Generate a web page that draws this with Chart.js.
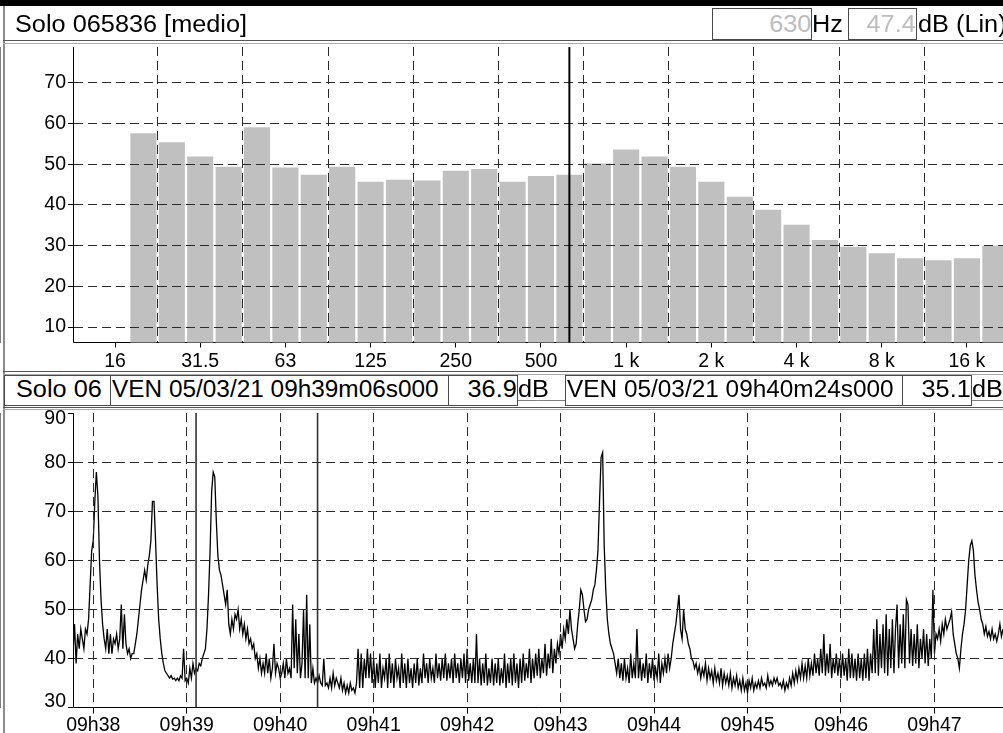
<!DOCTYPE html>
<html><head><meta charset="utf-8">
<script src="https://cdn.jsdelivr.net/npm/chart.js@4/dist/chart.umd.min.js"></script>
<style>
html,body{margin:0;padding:0;background:#fff;}
body{width:1003px;height:733px;overflow:hidden;position:relative;font-family:'Liberation Sans',Arial,sans-serif;}
canvas{position:absolute;left:0;}
.r{position:absolute;}
.t{position:absolute;white-space:nowrap;font-size:23px;color:#000;}
.box{position:absolute;box-sizing:border-box;border:1px solid #4a4a4a;background:#fff;white-space:nowrap;overflow:hidden;font-size:23px;}
.grey{color:#bdbdbd;text-align:right;}
.sx{display:inline-block;transform:scaleX(1.1);transform-origin:0 50%;}
.sx.n{transform:scaleX(1.06);}
.rt{text-align:right;}
.rt .sx{transform-origin:100% 50%;}
</style>
</head><body>
<canvas id="spec" width="1003" height="370" style="top:0"></canvas>
<canvas id="hist" width="1003" height="333" style="top:400px"></canvas>

<div class="r" style="left:0;top:0;width:1003px;height:6px;background:#000"></div>
<div class="r" style="left:3px;top:6px;width:2px;height:727px;background:#8c8c8c"></div>
<div class="r" style="left:3px;top:40px;width:1000px;height:1px;background:#555"></div>
<div class="r" style="left:3px;top:43px;width:1000px;height:1px;background:#aaa"></div>
<div class="t" style="left:15px;top:9px;line-height:30px"><span class="sx" id="title1"></span></div>
<div class="box grey rt" style="left:712px;top:8px;width:100px;height:32px;line-height:30px"><span class="sx" id="freqBox"></span></div>
<div class="t" style="left:812px;top:9px;line-height:30px"><span class="sx">Hz</span></div>
<div class="box grey rt" style="left:848px;top:8px;width:69px;height:32px;line-height:30px"><span class="sx" id="lvlBox"></span></div>
<div class="t" style="left:918px;top:9px;line-height:30px"><span class="sx">dB (Lin)</span></div>

<div class="r" style="left:3px;top:371px;width:1000px;height:1px;background:#555"></div>
<div class="r" style="left:3px;top:374px;width:1000px;height:1px;background:#aaa"></div>
<div class="box" style="left:4px;top:375px;width:107px;height:31px;line-height:26px;padding-left:11px"><span class="sx" id="title2"></span></div>
<div class="box" style="left:110px;top:375px;width:339px;height:31px;line-height:26px;padding-left:1px"><span class="sx n" id="c1t"></span></div>
<div class="box rt" style="left:448px;top:375px;width:70px;height:31px;line-height:26px"><span class="sx" id="c1v"></span></div>
<div class="t" style="left:518px;top:376px;line-height:26px"><span class="sx">dB</span></div>
<div class="box" style="left:565px;top:375px;width:338px;height:31px;line-height:26px;padding-left:1px"><span class="sx n" id="c2t"></span></div>
<div class="box rt" style="left:902px;top:375px;width:70px;height:31px;line-height:26px"><span class="sx" id="c2v"></span></div>
<div class="t" style="left:972px;top:376px;line-height:26px"><span class="sx">dB</span></div>
<div class="r" style="left:3px;top:407px;width:1000px;height:1px;background:#555"></div>
<div class="r" style="left:3px;top:409px;width:1000px;height:1px;background:#aaa"></div>

<script>
// ---------- spectrum (1/3 octave) ----------
const bands = ['12.5','16','20','25','31.5','40','50','63','80','100','125','160','200','250','315','400','500','630','800','1k','1.25k','1.6k','2k','2.5k','3.15k','4k','5k','6.3k','8k','10k','12.5k','16k','20k'];
const levelsLin = [null,null,57.6,55.4,51.9,49.4,59.1,49.2,47.4,49.4,45.7,46.2,46.0,48.4,48.8,45.7,47.1,47.4,50.2,53.6,51.9,49.4,45.7,42.0,38.8,35.1,31.4,29.7,28.1,26.9,26.4,26.9,30.0];
const octaveBands = ['16','31.5','63','125','250','500','1k','2k','4k','8k','16k'];
const octaveLabels = ['16','31.5','63','125','250','500','1 k','2 k','4 k','8 k','16 k'];
const specYTicks = [10,20,30,40,50,60,70];
const cursorBand = '630';
const specTitle = 'Solo 065836 [medio]';

// ---------- time history ----------
const startTime = '09:37:47';
const levelsDb = [
41,47,39,45,42,46,44,42,46,45,
48,55,62,64,72,78,73,60,52,47,
44,42,46,41,45,41,44,43,45,42,
44,51,42,49,43,41,42,40,41,41,
43,45,48,51,54,56,58,56,59,61,
64,72,72,64,55,48,44,41,39,37.5,
37,36.5,36,36.5,35.8,36,35.5,36,35.5,36.5,
36,42,35.5,36,35,38,36,39,37,38,
37.5,39,38.5,40,41,42,46,53,62,74,
78,77,68,61,58,57,55,53,51,54,
47,45,48,46,49,48,50,46,48,45,
47,44,46,43,44,42,43,40,41,38,
40,37,39,37,41,37,40,36,38,43,
37,39,38,36,37,39,36,40,37,38,
36,51,38,48,37,45,36,39,50,36,
53,36,47,35,38,35,36,35,36.5,35,
34.5,40,34.5,35,34,36,34,37,34.5,36,
35,34,36,33.5,35,33,34.5,33,35,33.5,
34,33,35,42,34,41,34,40,36,42,
36,41,35,40,34,39,35,41,34,38,
36,40,34,41,35,39,34,40,36,38,
34,41,35,39,34,40,35,38,34,39,
35,40,34.5,38,35,41,36,39,35,40,
36,38,35,41,36,39,35.5,40,36,41,
35.5,39,36,40,35,41,36,39,35,40,
36,41,35,42,35.5,39,35,40,35,45,
35,40,34.5,39,35,41,34.5,38,35,40,
34.5,39,35,40,34.5,38,35,41,34,39,
35,40,34.5,41,35,39,34,40,35,41,
35.5,39,36,42,35,40,36,41,36.5,42,
36,40,37,43,36.5,41,38,44,37,42,
39,43,41,45,42,46,44,48,45,50,
46,44,42,43,47,50,54,53,50,47.5,
48,50,51,52,54,55,58,62,72,81,
82,63,54,48,45,43,42,41,39,37,
40,36,39,35.5,40,36,38,35,41,36,
39,36,46,36,40,35.5,39,36,41,35,
39,36,40,35.5,38,36,41,35,39,37,
40,37,41,38,40,43,45,47,50,53,
46,44,50,46,45,43,42,40,39.5,38,
39,37,38.5,36,38,36.5,39,35.5,38,36,
37.5,35,38,35.5,37,35,38,34.5,37,35,
36.5,34.5,37,34,36,34.5,36.5,34,35.5,33.5,
36,33.5,35,33,35.5,34,36,33.5,35,34,
35.5,34,36,34.5,35,34,36.5,34.5,35.5,34.5,
36,35,36,34.5,35,34,35.5,33.5,35,34,
36,34.5,37,35,37.5,35.5,38,36,39,36,
38.5,36,40,36.5,39,36.5,41,37,40,36.5,
42,37,45,36.5,41,37,43,36,40,37,
41,36.5,40,36,41,36.5,40,35.5,42,36,
41,36,40,35.5,41,36,40,35.5,41,36,
42,35.5,41,37,46,37,48,36.5,45,38,
47,37,49,36.5,46,38,48,37,46,51,
38,47,39,49,38,52,51,39,46,38.5,
45,39,47,38,44,40,46,39,45,38.5,
44,40,54,41,45,44,46,43.5,47,45,
48,46,47,48,49.5,45,43,41,40,38,
42,45,47,50,55,60,63,64,62,57,
54,51.5,50,48,47,45,46.5,44.5,45.5,44,
46,44,45,43.5,45,47,44.5,46
];
const timeTickLabels = ['09h38','09h39','09h40','09h41','09h42','09h43','09h44','09h45','09h46','09h47'];
const histYTicks = [30,40,50,60,70,80,90];
const histTitle = 'Solo 06';
const cursorTimes = ['09:39:06','09:40:24'];
const cursorStamps = ['VEN 05/03/21 09h39m06s000','VEN 05/03/21 09h40m24s000'];
const cursorLevels = ['36.9','35.1'];

// ---------- header texts ----------
document.getElementById('title1').textContent = specTitle;
document.getElementById('freqBox').textContent = cursorBand;
document.getElementById('lvlBox').textContent = levelsLin[bands.indexOf(cursorBand)].toFixed(1);
document.getElementById('title2').textContent = histTitle;
document.getElementById('c1t').textContent = cursorStamps[0];
document.getElementById('c2t').textContent = cursorStamps[1];
document.getElementById('c1v').textContent = cursorLevels[0];
document.getElementById('c2v').textContent = cursorLevels[1];

const FONT = "'Liberation Sans', Arial, sans-serif";
const tickFont = {family: FONT, size: 19.5};
const DASH = [9,5];
const CLEAR = 'rgba(0,0,0,0)';

const cursorPlugin = {
  id: 'cursors',
  afterDraw(chart, args, opts) {
    const {ctx, chartArea, scales} = chart;
    ctx.save();
    ctx.setLineDash([]);
    ctx.strokeStyle = opts.color;
    ctx.lineWidth = opts.width;
    (opts.values || []).forEach(v => {
      const x = scales.x.getPixelForValue(v);
      ctx.beginPath();
      ctx.moveTo(x, chartArea.top);
      ctx.lineTo(x, chartArea.bottom);
      ctx.stroke();
    });
    ctx.restore();
  }
};
const axesPlugin = {
  id: 'axesLines',
  beforeDatasetsDraw(chart) {
    const {ctx, chartArea: a} = chart;
    const x = Math.floor(a.left) + 0.5, y = Math.floor(a.bottom) + 0.5;
    ctx.save();
    ctx.setLineDash([]);
    ctx.strokeStyle = '#000';
    ctx.lineWidth = 1;
    ctx.beginPath();
    ctx.moveTo(x, a.top);
    ctx.lineTo(x, y);
    ctx.lineTo(a.right, y);
    ctx.stroke();
    ctx.restore();
  }
};

// ---------- spectrum chart ----------
const centerIdx = octaveBands.map(b => bands.indexOf(b));
const specXTicks = [];
centerIdx.forEach(i => { specXTicks.push(i - 1.5, i); });
specXTicks.push(centerIdx[centerIdx.length-1] + 1.5);
const isCenter = v => Math.abs(v - Math.round(v)) < 0.01;

new Chart(document.getElementById('spec'), {
  type: 'bar',
  data: {
    datasets: [{
      data: bands.map((b, i) => ({x: i, y: levelsLin[i]})),
      backgroundColor: '#c0c0c0',
      borderWidth: 0,
      barPercentage: 0.92,
      categoryPercentage: 1,
      clip: 0
    }]
  },
  options: {
    responsive: false, animation: false, devicePixelRatio: 1,
    layout: {padding: {top: 47, left: 0, right: 0, bottom: 0}},
    plugins: {legend: {display: false}, tooltip: {enabled: false},
      cursors: {values: [bands.indexOf(cursorBand)], color: '#000', width: 2}},
    scales: {
      x: {
        type: 'linear', min: -0.48, max: 32.27, offset: false,
        afterBuildTicks: s => { s.ticks = specXTicks.filter(v => v >= s.min && v <= s.max).map(v => ({value: v})); },
        afterFit: s => { s.height = 27.5; s.paddingLeft = 0; s.paddingRight = 0; },
        ticks: {autoSkip: false, maxRotation: 0, minRotation: 0, font: tickFont, color: '#000', padding: 2,
          callback: v => isCenter(v) ? octaveLabels[centerIdx.indexOf(Math.round(v))] : ''},
        grid: {z: 1, offset: false, lineWidth: 1, tickLength: 5,
          color: c => (c.tick && isCenter(c.tick.value)) ? CLEAR : '#2a2a2a',
          tickColor: c => (c.tick && isCenter(c.tick.value)) ? '#000' : CLEAR},
        border: {display: true, color: '#000', width: 1, dash: DASH}
      },
      y: {
        type: 'linear', min: 6.2, max: 78.8,
        afterBuildTicks: s => { s.ticks = specYTicks.map(v => ({value: v})); },
        afterFit: s => { s.width = 73; s.paddingTop = 0; s.paddingBottom = 0; },
        ticks: {font: tickFont, color: '#000', padding: 2, callback: v => String(v)},
        grid: {z: 1, lineWidth: 1, tickLength: 5, color: '#2a2a2a', tickColor: '#000'},
        border: {display: true, color: '#000', width: 1, dash: DASH}
      }
    }
  },
  plugins: [axesPlugin, cursorPlugin]
});

// ---------- time history chart ----------
const toSec = s => { const p = s.split(/[:h]/).map(Number); return p[0]*3600 + p[1]*60 + (p[2] || 0); };
const t0 = toSec(startTime);
const minuteTicks = timeTickLabels.map(l => toSec(l) - t0);

new Chart(document.getElementById('hist'), {
  type: 'line',
  data: {
    datasets: [{
      data: levelsDb.map((v, i) => ({x: i, y: v})),
      borderColor: '#000', borderWidth: 1.3, pointRadius: 0, tension: 0, fill: false
    }]
  },
  options: {
    responsive: false, animation: false, devicePixelRatio: 1,
    layout: {padding: {top: 13.1, left: 0, right: 0, bottom: 0}},
    plugins: {legend: {display: false}, tooltip: {enabled: false},
      cursors: {values: cursorTimes.map(t => toSec(t) - t0), color: '#333', width: 1.6}},
    scales: {
      x: {
        type: 'linear', min: 0, max: levelsDb.length - 1,
        afterBuildTicks: s => { s.ticks = minuteTicks.map(v => ({value: v})); },
        afterFit: s => { s.height = 25.4; s.paddingLeft = 0; s.paddingRight = 0; },
        ticks: {autoSkip: false, maxRotation: 0, minRotation: 0, font: tickFont, color: '#000', padding: 0,
          callback: v => timeTickLabels[minuteTicks.indexOf(v)]},
        grid: {z: 1, lineWidth: 1, tickLength: 6, color: '#2a2a2a', tickColor: '#000'},
        border: {display: true, color: '#000', width: 1, dash: DASH}
      },
      y: {
        type: 'linear', min: 30, max: 90,
        afterBuildTicks: s => { s.ticks = histYTicks.map(v => ({value: v})); },
        afterFit: s => { s.width = 73; s.paddingTop = 0; s.paddingBottom = 0; },
        ticks: {color: '#000', padding: 2,
          font: c => {
            const v = c.tick ? c.tick.value : 0;
            return {family: FONT, size: 19.5, lineHeight: v === 90 ? '11px' : (v === 30 ? '12px' : 1.2)};
          },
          callback: v => v === 90 ? ['', '90'] : (v === 30 ? ['30', ''] : String(v))},
        grid: {z: 1, lineWidth: 1, tickLength: 5,
          color: c => (c.tick && (c.tick.value === 30 || c.tick.value === 90)) ? CLEAR : '#2a2a2a',
          tickColor: '#000'},
        border: {display: true, color: '#000', width: 1, dash: DASH}
      }
    }
  },
  plugins: [axesPlugin, cursorPlugin]
});
</script>
</body></html>
